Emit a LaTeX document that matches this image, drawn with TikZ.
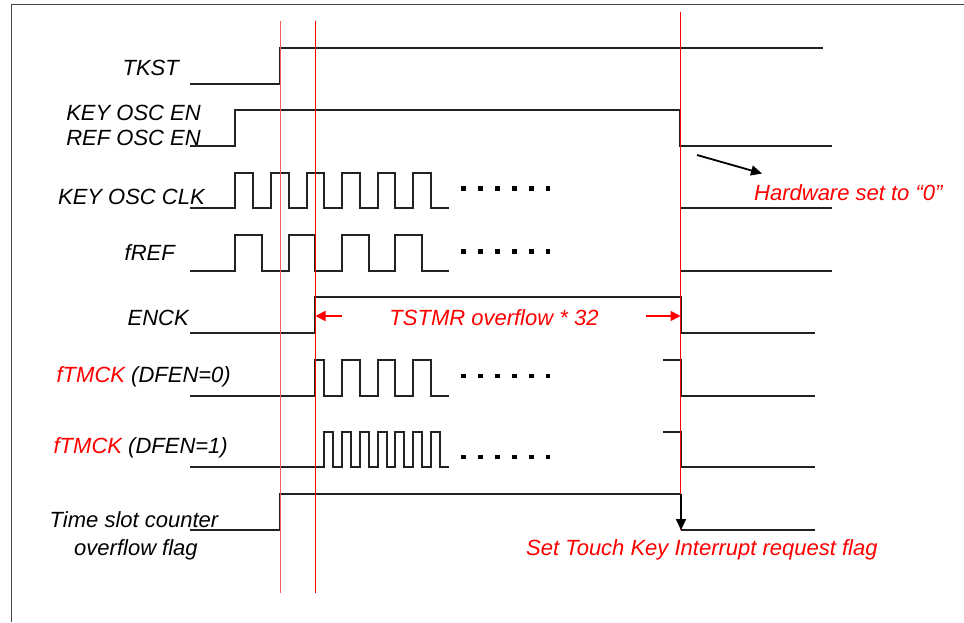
\documentclass[tikz,border=0pt]{standalone}
\usepackage{fontspec}
\setmainfont{Liberation Sans}
\usetikzlibrary{arrows.meta}
\definecolor{sigcol}{HTML}{222222}
\definecolor{framecol}{HTML}{444444}
\definecolor{pinkred}{HTML}{F06060}
\definecolor{pured}{HTML}{FF0000}
\begin{document}
\begin{tikzpicture}[x=1pt,y=-1pt,
  sig/.style={line width=1.1pt, sigcol, line join=miter},
  lbl/.style={inner sep=0pt, font=\fontsize{22}{26}\selectfont\itshape},
  redlbl/.style={lbl, text=pured},
  redarrow/.style={line width=1.6pt, pured, -{Triangle[length=10pt,width=10pt]}},
  blackarrow/.style={line width=1.8pt, black, -{Triangle[length=11pt,width=10pt]}}]
\useasboundingbox (0,0) rectangle (964,622);
% frame
\draw[framecol, line width=1pt] (964,4) -- (11,4) -- (11,622);

% labels
\node[lbl, anchor=base east] (tkst) at (179,75) {TKST};
\node[lbl, anchor=base east] (keyen) at (201,120.7) {KEY OSC EN};
\node[lbl, anchor=base east] (refen) at (201,145.7) {REF OSC EN};
\node[lbl, anchor=base east] (clk) at (205,204.3) {KEY OSC CLK};
\node[lbl, anchor=base east] (fref) at (175,260.3) {fREF};
\node[lbl, anchor=base east] (enck) at (189,325) {ENCK};
\node[lbl, anchor=base east] (tm0) at (231,382.3) {\textcolor{pured}{fTMCK} (DFEN=0)};
\node[lbl, anchor=base east] (tm1) at (228,453.3) {\textcolor{pured}{fTMCK} (DFEN=1)};
\node[lbl, anchor=base] (tsc) at (134,527.7) {Time slot counter};
\node[lbl, anchor=base] (tsc2) at (136,555) {overflow flag};
\node[redlbl, anchor=base west] (hw) at (754,200.3) {Hardware set to “0”};
\node[redlbl, anchor=base] (tstmr) at (494,325) {TSTMR overflow * 32};
\node[redlbl, anchor=base west] (setflag) at (526,555) {Set Touch Key Interrupt request flag};

% signals
\draw[sig] (190,84) -- (280,84) -- (280,48) -- (823,48);
\draw[sig] (190,146) -- (235,146) -- (235,110) -- (680,110) -- (680,146) -- (832,146);
\draw[sig] (190,208) -- (235,208) -- (235,173) -- (253,173) -- (253,208) -- (271,208) -- (271,173) -- (289,173) -- (289,208) -- (307,208) -- (307,173) -- (324,173) -- (324,208) -- (342,208) -- (342,173) -- (360,173) -- (360,208) -- (378,208) -- (378,173) -- (395,173) -- (395,208) -- (413,208) -- (413,173) -- (431,173) -- (431,208) -- (449,208);
\draw[sig] (680,208) -- (832,208);
\draw[sig] (190,271) -- (235,271) -- (235,235) -- (262,235) -- (262,271) -- (289,271) -- (289,235) -- (315,235) -- (315,271) -- (342,271) -- (342,235) -- (369,235) -- (369,271) -- (395,271) -- (395,235) -- (422,235) -- (422,271) -- (449,271);
\draw[sig] (680,271) -- (832,271);
\draw[sig] (190,333) -- (315,333) -- (315,297) -- (681,297) -- (681,333) -- (815,333);
\draw[sig] (190,396) -- (315,396) -- (315,360) -- (324,360) -- (324,396) -- (342,396) -- (342,360) -- (360,360) -- (360,396) -- (378,396) -- (378,360) -- (395,360) -- (395,396) -- (413,396) -- (413,360) -- (431,360) -- (431,396) -- (449,396);
\draw[sig] (663,360) -- (681,360) -- (681,396) -- (815,396);
\draw[sig] (190,467) -- (324,467) -- (324,432) -- (333,432) -- (333,467) -- (342,467) -- (342,432) -- (351,432) -- (351,467) -- (360,467) -- (360,432) -- (369,432) -- (369,467) -- (378,467) -- (378,432) -- (387,432) -- (387,467) -- (395,467) -- (395,432) -- (404,432) -- (404,467) -- (413,467) -- (413,432) -- (422,432) -- (422,467) -- (431,467) -- (431,432) -- (440,432) -- (440,467) -- (449,467);
\draw[sig] (663,432) -- (681,432) -- (681,467) -- (815,467);
\draw[sig] (190,530) -- (280,530) -- (280,494) -- (681,494);
\draw[sig] (681,530) -- (815,530);

% continuation dots
\foreach \y in {188.5,251.5,376,457}
  \foreach \x in {463.5,480.4,497.3,514.2,531.1,548}
    \fill[black] (\x-2.4,\y-2.1) rectangle (\x+2.4,\y+2.1);

% red time markers
\draw[pinkred, line width=1pt] (280,21) -- (280,593);
\draw[pured, line width=1pt] (315,21) -- (315,593);
\draw[pured, line width=1pt] (680,12) -- (680,530);

% arrows
\coordinate (hwA) at (697,155);
\coordinate (hwB) at (762,173.5);
\draw[blackarrow] (hwA) -- (hwB);
\coordinate (enL1) at (342,316);
\coordinate (enL2) at (315.5,316);
\draw[redarrow] (enL1) -- (enL2);
\coordinate (enR1) at (646,316);
\coordinate (enR2) at (680.5,316);
\draw[redarrow] (enR1) -- (enR2);
\coordinate (flA) at (681,494);
\coordinate (flB) at (681,530);
\draw[blackarrow] (flA) -- (flB);
\end{tikzpicture}
\end{document}
